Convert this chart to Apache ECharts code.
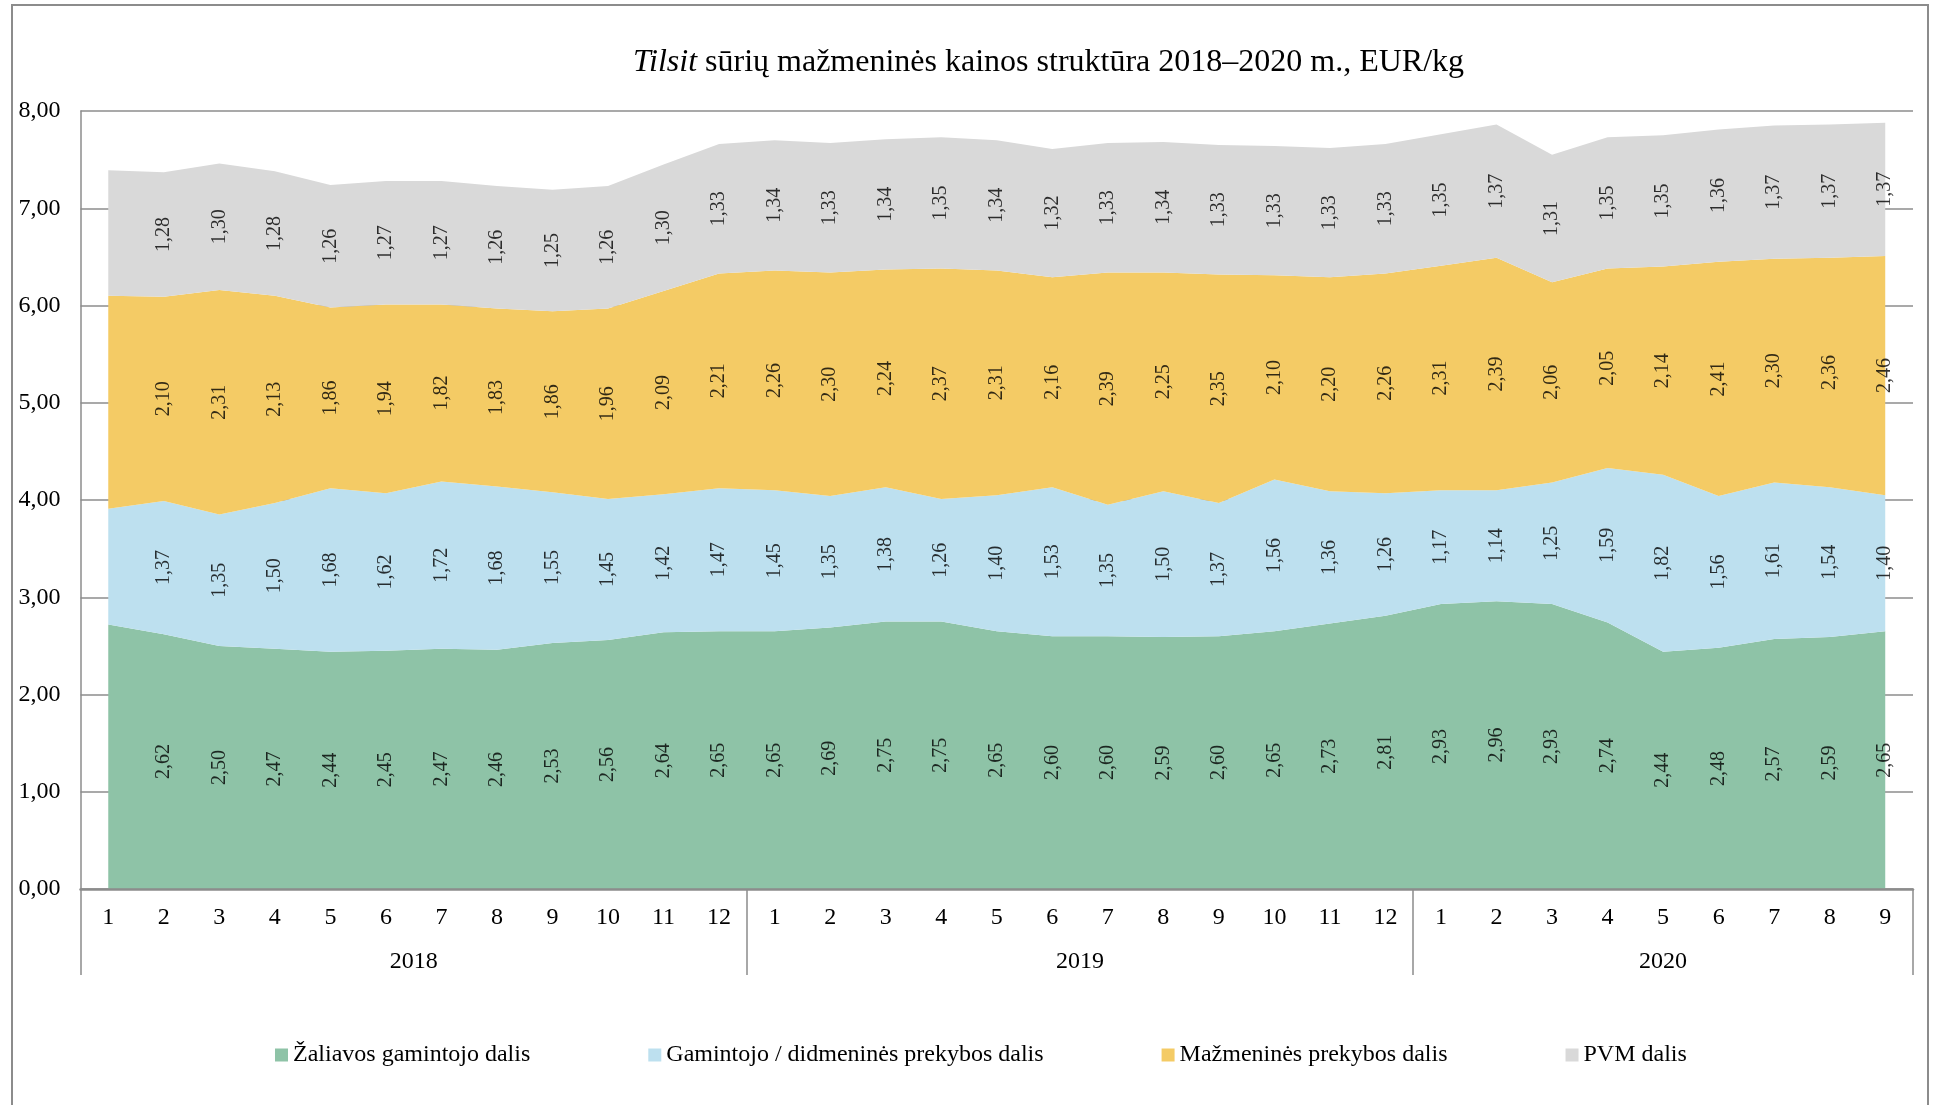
<!DOCTYPE html>
<html>
<head lang="lt">
    <meta charset="UTF-8">
    <title>Tilsit sūrių kainos struktūra</title>
    <style type="text/css">
        html, body { margin: 0; padding: 0; background: #fff; }
        #mychart { width: 1944px; height: 1105px; }
    </style>
</head>
<body>
<div id='mychart'></div>
<script src='https://cdn.jsdelivr.net/npm/echarts@6/dist/echarts.min.js'></script>
<script>
    // menesiai 2018-01 .. 2020-09
    var months = ['1','2','3','4','5','6','7','8','9','10','11','12',
                  '1','2','3','4','5','6','7','8','9','10','11','12',
                  '1','2','3','4','5','6','7','8','9'];
    var years = ['2018', '2019', '2020'];
    var yearSpans = [12, 12, 9];

    var seriesNames = ['Žaliavos gamintojo dalis', 'Gamintojo / didmeninės prekybos dalis',
                       'Mažmeninės prekybos dalis', 'PVM dalis'];
    var colors = ['#8ec3a7', '#bde0ef', '#f4cb65', '#d9d9d9'];

    // 2018-01 reiksmes nuskaitytos is grafiko (be etikeciu)
    var zaliavos = [2.72, 2.62, 2.50, 2.47, 2.44, 2.45, 2.47, 2.46, 2.53, 2.56, 2.64, 2.65,
                    2.65, 2.69, 2.75, 2.75, 2.65, 2.60, 2.60, 2.59, 2.60, 2.65, 2.73, 2.81,
                    2.93, 2.96, 2.93, 2.74, 2.44, 2.48, 2.57, 2.59, 2.65];
    var gamintojo = [1.19, 1.37, 1.35, 1.50, 1.68, 1.62, 1.72, 1.68, 1.55, 1.45, 1.42, 1.47,
                     1.45, 1.35, 1.38, 1.26, 1.40, 1.53, 1.35, 1.50, 1.37, 1.56, 1.36, 1.26,
                     1.17, 1.14, 1.25, 1.59, 1.82, 1.56, 1.61, 1.54, 1.40];
    var mazmenines = [2.19, 2.10, 2.31, 2.13, 1.86, 1.94, 1.82, 1.83, 1.86, 1.96, 2.09, 2.21,
                      2.26, 2.30, 2.24, 2.37, 2.31, 2.16, 2.39, 2.25, 2.35, 2.10, 2.20, 2.26,
                      2.31, 2.39, 2.06, 2.05, 2.14, 2.41, 2.30, 2.36, 2.46];
    var pvm = [1.29, 1.28, 1.30, 1.28, 1.26, 1.27, 1.27, 1.26, 1.25, 1.26, 1.30, 1.33,
               1.34, 1.33, 1.34, 1.35, 1.34, 1.32, 1.33, 1.34, 1.33, 1.33, 1.33, 1.33,
               1.35, 1.37, 1.31, 1.35, 1.35, 1.36, 1.37, 1.37, 1.37];

    var allData = [zaliavos, gamintojo, mazmenines, pvm];
    var font = 'Liberation Serif, Times New Roman, serif';
    var gray = '#8c8c8c';

    function fmt(v) { return v.toFixed(2).replace('.', ','); }

    // metu asis: pusines juostos, kad metu pavadinimas butu per viduri
    var yearAxisData = [];
    var yearLabelAt = {};
    var yearTickAt = {0: true};
    var start = 0;
    for (var k = 0; k < years.length; k++) {
        yearLabelAt[2 * start + yearSpans[k]] = years[k];
        start += yearSpans[k];
        yearTickAt[2 * start] = true;
    }
    for (var h = 0; h <= 2 * months.length; h++) {
        yearAxisData.push(yearLabelAt[h] || '');
    }

    var series = [];
    allData.forEach(function (d, s) {
        series.push({
            name: seriesNames[s],
            type: 'line',
            stack: 'kaina',
            data: d,
            symbol: 'none',
            lineStyle: { width: 0 },
            itemStyle: { color: colors[s] },
            areaStyle: { color: colors[s], opacity: 1 },
            silent: true,
            z: 2
        });
    });

    // etiketes per sluoksnio viduri (nuo 2018-02)
    var cum = months.map(function () { return 0; });
    allData.forEach(function (d, s) {
        var pts = [];
        d.forEach(function (v, i) {
            if (i > 0) pts.push([i, cum[i] + v / 2, v]);
            cum[i] += v;
        });
        series.push({
            name: 'lbl' + s,
            type: 'scatter',
            data: pts,
            symbolSize: 0,
            silent: true,
            z: 5,
            label: {
                show: true,
                position: 'inside',
                rotate: 90,
                fontFamily: font,
                fontSize: 20,
                color: '#000',
                formatter: function (p) { return fmt(p.value[2]); }
            }
        });
    });

    var option = {
        backgroundColor: '#fff',
        animation: false,
        title: {
            text: '{i|Tilsit} sūrių mažmeninės kainos struktūra 2018–2020 m., EUR/kg',
            left: 633,
            top: 47,
            padding: 0,
            textStyle: {
                fontFamily: font,
                fontSize: 32,
                fontWeight: 'normal',
                color: '#000',
                lineHeight: 32,
                rich: {
                    i: { fontFamily: font, fontSize: 32, fontStyle: 'italic', color: '#000', lineHeight: 32 }
                }
            }
        },
        legend: {
            data: seriesNames,
            left: 275,
            top: 1043,
            padding: 0,
            icon: 'rect',
            itemWidth: 13,
            itemHeight: 13,
            itemGap: 118,
            textStyle: { fontFamily: font, fontSize: 24, color: '#000' }
        },
        grid: { left: 80.5, right: 31, top: 111, bottom: 216 },
        xAxis: [{
            type: 'category',
            data: months,
            boundaryGap: true,
            axisLine: { lineStyle: { color: gray, width: 2.5 } },
            axisTick: { show: false },
            axisLabel: { interval: 0, margin: 17, fontFamily: font, fontSize: 24, color: '#000' },
            z: 10
        }, {
            type: 'category',
            position: 'bottom',
            data: yearAxisData,
            boundaryGap: false,
            axisLine: { show: false },
            axisTick: {
                show: true,
                length: 86,
                interval: function (idx) { return !!yearTickAt[idx]; },
                lineStyle: { color: gray, width: 1.5 }
            },
            axisLabel: { interval: 0, margin: 61, fontFamily: font, fontSize: 24, color: '#000' },
            splitLine: { show: false }
        }],
        yAxis: {
            type: 'value',
            min: 0,
            max: 8,
            interval: 1,
            axisLine: { show: true, lineStyle: { color: gray, width: 1.5 } },
            axisTick: { show: false },
            splitLine: { lineStyle: { color: gray, width: 1.5 } },
            axisLabel: {
                margin: 20,
                fontFamily: font,
                fontSize: 24,
                color: '#000',
                formatter: function (v) { return fmt(v); }
            }
        },
        graphic: [{
            type: 'rect',
            shape: { x: 12, y: 5, width: 1916, height: 1200 },
            style: { fill: null, stroke: gray, lineWidth: 2 },
            silent: true,
            z: 0
        }],
        series: series
    };

    var mychart = echarts.init(document.getElementById('mychart'));
    mychart.setOption(option);
</script>
</body>
</html>
